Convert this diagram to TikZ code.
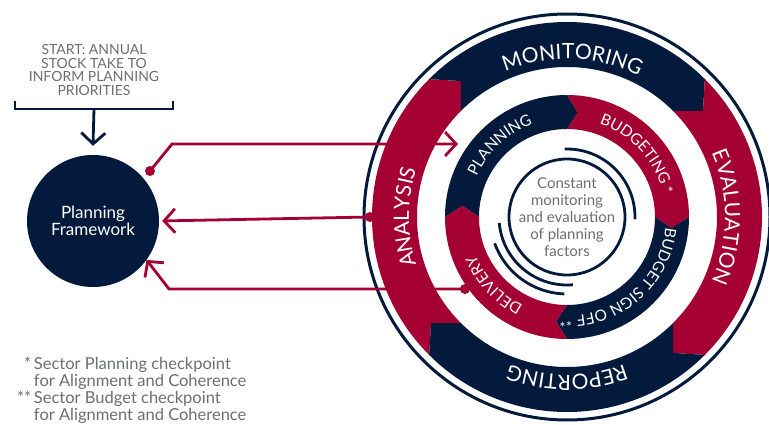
\documentclass[tikz,border=0pt]{standalone}
\usepackage{fontspec}
\setmainfont{Lato}
\usetikzlibrary{arrows.meta,decorations.text}
\definecolor{cycred}{HTML}{A50034}
\definecolor{cycnavy}{HTML}{031A3C}
\definecolor{cycgray}{HTML}{6D6E71}

\begin{document}
\begin{tikzpicture}[x=1pt,y=1pt]
	\tikzstyle{link}=[cycred, line width=2.8pt, -{Straight Barb[length=11pt,width=24pt]}]
	\tikzstyle{feed}=[cycnavy, line width=2.8pt]
	\tikzstyle{dot}=[circle, fill=cycred, inner sep=0pt, minimum size=10pt]
	\tikzstyle{ringtext}=[decorate, decoration={text along path, text align=center, text color=white}]
	\useasboundingbox (0,0) rectangle (769,424);

	\node[text=cycgray, font=\fontsize{14}{13.5}\selectfont, align=center] (start) at (94,354) {START: ANNUAL\\STOCK TAKE TO\\INFORM PLANNING\\PRIORITIES};
	\coordinate (bl) at (15,323);
	\coordinate (br) at (173,323);
	\coordinate (bm) at (94,315);
	\draw[feed] (bl) -- ++(0,-8) -| (br);

	\node[circle, fill=cycnavy, minimum size=132pt, text=white, align=center, font=\fontsize{17}{17}\selectfont] (framework) at (93,203) {Planning\\Framework};
	\draw[feed, -{Straight Barb[length=11pt,width=24pt]}] (bm) -- ([yshift=9pt]framework.north);

	\begin{scope}[shift={(567,207)}]
		\draw[cycnavy, line width=3pt] (0,0) circle (203);
		\foreach \a/\c in {225/cycred,135/cycnavy,45/cycred,-45/cycnavy}
			\fill[\c] (\a:195) arc[start angle=\a, end angle=\a-90, radius=195] -- ({\a-97}:172.5)
				-- ({\a-90}:150) arc[start angle=\a-90, end angle=\a, radius=150] -- ({\a-7}:172.5) -- cycle;
		\foreach \a/\c in {180/cycnavy,90/cycred,0/cycnavy,-90/cycred}
			\fill[\c] (\a:122) arc[start angle=\a, end angle=\a-90, radius=122] -- ({\a-96}:105)
				-- ({\a-90}:88) arc[start angle=\a-90, end angle=\a, radius=88] -- ({\a-6}:105) -- cycle;

		\path[ringtext, decoration={text={|\fontsize{21}{21}\selectfont|MONITORING}}] (148:158) arc[start angle=148, end angle=28, radius=158];
		\path[ringtext, decoration={text={|\fontsize{21}{21}\selectfont|EVALUATION}}] (60:158) arc[start angle=60, end angle=-60, radius=158];
		\path[ringtext, decoration={text={|\fontsize{21}{21}\selectfont|REPORTING}}] (330:158) arc[start angle=330, end angle=210, radius=158];
		\path[ringtext, decoration={text={|\fontsize{21}{21}\selectfont|ANALYSIS}}] (240:158) arc[start angle=240, end angle=120, radius=158];

		\path[ringtext, decoration={text={|\fontsize{15.5}{15.5}\selectfont|PLANNING}}] (193:99) arc[start angle=193, end angle=73, radius=99];
		\path[ringtext, decoration={text={|\fontsize{15.5}{15.5}\selectfont|BUDGETING |\fontsize{14}{14}\selectfont|*}}] (102:99) arc[start angle=102, end angle=-18, radius=99];
		\path[ringtext, decoration={text={|\fontsize{15.5}{15.5}\selectfont|BUDGET SIGN OFF |\fontsize{14}{14}\selectfont|**}}] (10:99) arc[start angle=10, end angle=-110, radius=99];
		\path[ringtext, decoration={text={|\fontsize{15.5}{15.5}\selectfont|DELIVERY}}] (283:99) arc[start angle=283, end angle=163, radius=99];

		\draw[feed] (0,0) circle (58);
		\draw[feed] (92:68) arc[start angle=92, end angle=-2, radius=68];
		\draw[feed] (185:68) arc[start angle=185, end angle=275, radius=68];
		\draw[feed] (200:77) arc[start angle=200, end angle=268, radius=77];
		\node[text=cycgray, font=\fontsize{15}{17}\selectfont, align=center] (centre) at (0,0) {Constant\\monitoring\\and evaluation\\of planning\\factors};
	\end{scope}

	\node[dot] (dota) at (150,253) {};
	\node[dot] (dotb) at (370,207) {};
	\node[dot] (dotc) at (465,135) {};
	\coordinate (ka) at (172,280);
	\coordinate (kc) at (169,135);
	\coordinate (planningin) at (458,280);
	\draw[link] (dota.center) -- (ka) -- (planningin);
	\draw[link, shorten >=3pt] (dotb.center) -- (framework.east);
	\draw[link] (dotc.center) -- (kc) -- (framework.-36);

	\node[text=cycgray, font=\fontsize{16.5}{16}\selectfont, anchor=north west, inner sep=0pt] (notes) at (17,67) {
		\begin{tabular}{@{}r@{\,}l@{}}
			\makebox[14pt][r]{*} & Sector Planning checkpoint\\
			& for Alignment and Coherence\\
			{**} & Sector Budget checkpoint\\
			& for Alignment and Coherence
		\end{tabular}
	};
\end{tikzpicture}
\end{document}
